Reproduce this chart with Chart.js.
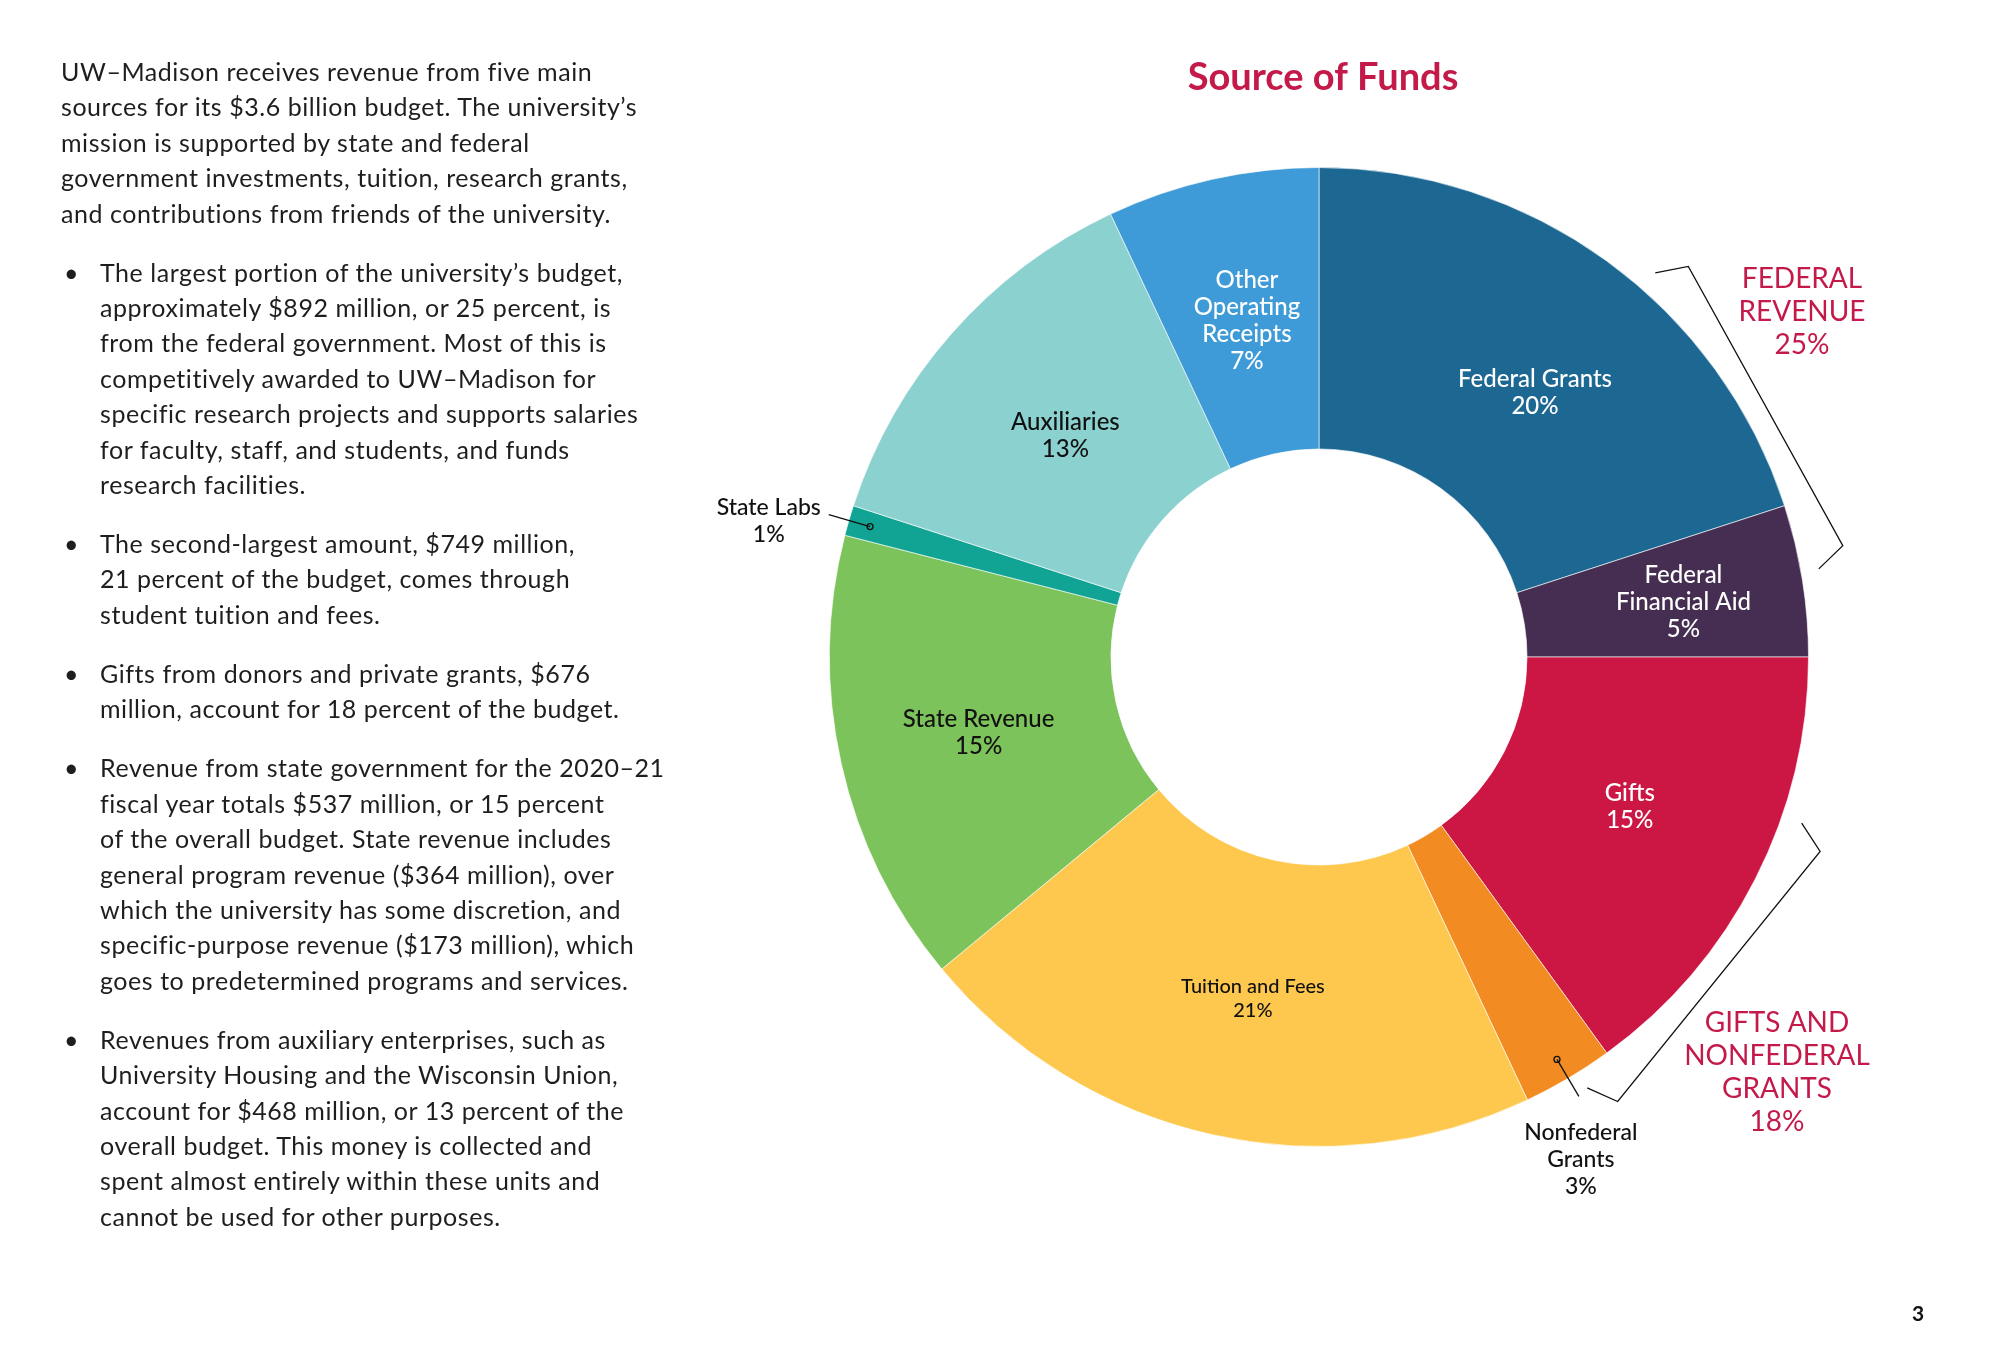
<!DOCTYPE html>
<html>
<head>
<meta charset="utf-8">
<script src="https://cdn.jsdelivr.net/npm/chart.js@4.4.1/dist/chart.umd.min.js"></script>
<style>
  html, body { margin: 0; padding: 0; background: #fff; }
  #page { position: relative; width: 2000px; height: 1367px; overflow: hidden; }
  #chart { position: absolute; left: 0; top: 0; }
  #text {
    position: absolute; left: 61px; top: 54px; width: 620px;
    font-family: Lato, "Noto Sans", sans-serif; font-weight: 400;
    font-size: 25px; line-height: 35.4px; color: #1e1e1e;
    letter-spacing: 0.55px; white-space: nowrap;
  }
  #text p { margin: 0 0 23.6px 0; position: relative; }
  #text p.bullet { padding-left: 39px; }
  #text p.bullet:before { content: "•"; position: absolute; left: 3px; top: 0; }
</style>
</head>
<body>
<div id="page">
  <canvas id="chart" width="2000" height="1367"></canvas>
  <div id="text">
    <p>UW–Madison receives revenue from five main<br>sources for its $3.6 billion budget. The university’s<br>mission is supported by state and federal<br>government investments, tuition, research grants,<br>and contributions from friends of the university.</p>
    <p class="bullet">The largest portion of the university’s budget,<br>approximately $892 million, or 25 percent, is<br>from the federal government. Most of this is<br>competitively awarded to UW–Madison for<br>specific research projects and supports salaries<br>for faculty, staff, and students, and funds<br>research facilities.</p>
    <p class="bullet">The second-largest amount, $749 million,<br>21 percent of the budget, comes through<br>student tuition and fees.</p>
    <p class="bullet">Gifts from donors and private grants, $676<br>million, account for 18 percent of the budget.</p>
    <p class="bullet">Revenue from state government for the 2020–21<br>fiscal year totals $537 million, or 15 percent<br>of the overall budget. State revenue includes<br>general program revenue ($364 million), over<br>which the university has some discretion, and<br>specific-purpose revenue ($173 million), which<br>goes to predetermined programs and services.</p>
    <p class="bullet">Revenues from auxiliary enterprises, such as<br>University Housing and the Wisconsin Union,<br>account for $468 million, or 13 percent of the<br>overall budget. This money is collected and<br>spent almost entirely within these units and<br>cannot be used for other purposes.</p>
  </div>
</div>
<script>
"use strict"

// data, clockwise from 12 o'clock
const categories = ['Federal Grants', 'Federal Financial Aid', 'Gifts', 'Nonfederal Grants',
  'Tuition and Fees', 'State Revenue', 'State Labs', 'Auxiliaries', 'Other Operating Receipts'];
const shares = [20, 5, 15, 3, 21, 15, 1, 13, 7];
const labelLines = [['Federal Grants'], ['Federal', 'Financial Aid'], ['Gifts'], ['Nonfederal', 'Grants'],
  ['Tuition and Fees'], ['State Revenue'], ['State Labs'], ['Auxiliaries'], ['Other', 'Operating', 'Receipts']];
const groupNames = [['FEDERAL', 'REVENUE'], ['GIFTS AND', 'NONFEDERAL', 'GRANTS']];
const groupShares = [25, 18];

const sliceColors = ['#1d6892', '#452e51', '#cc1744', '#f28c22', '#fdc84d', '#7dc35b', '#11a394', '#8ad1cf', '#3f9bd7'];
const textColors = ['#fff', '#fff', '#fff', '#111', '#111', '#111', '#111', '#111', '#fff'];
// small nudges of the in-ring labels away from the slice centre
const labelNudge = [[11, 18], [20, 0], [0, -9], [0, 0], [10, 1], [0, 0], [0, 0], [8, 9], [4, 4]];
const crimson = '#c41a4a';
const FONT = 'Lato, "Noto Sans", sans-serif';

function polar(cx, cy, r, deg) {
  // deg measured clockwise from 12 o'clock
  const a = (deg - 90) * Math.PI / 180;
  return {x: cx + r * Math.cos(a), y: cy + r * Math.sin(a)};
}

const annotations = {
  id: 'annotations',
  afterDraw(chart) {
    const ctx = chart.ctx;
    const arcs = chart.getDatasetMeta(0).data;
    const cx = arcs[0].x, cy = arcs[0].y;
    const R = arcs[0].outerRadius;
    ctx.save();
    ctx.textAlign = 'center';
    ctx.textBaseline = 'middle';

    // title
    ctx.fillStyle = crimson;
    ctx.font = '700 38px ' + FONT;
    ctx.fillText('Source of Funds', cx + 4, 78);

    arcs.forEach((arc, i) => {
      const lines = labelLines[i].concat([shares[i] + '%']);
      const mid = (arc.startAngle + arc.endAngle) / 2;
      if (shares[i] < 4) {
        // small slice: dot inside the ring, radial leader, label outside
        const dot = {x: cx + (R - 22) * Math.cos(mid), y: cy + (R - 22) * Math.sin(mid)};
        const end = {x: cx + (R + 21) * Math.cos(mid), y: cy + (R + 21) * Math.sin(mid)};
        ctx.strokeStyle = '#111';
        ctx.lineWidth = 1.3;
        ctx.beginPath();
        ctx.moveTo(end.x, end.y);
        ctx.lineTo(dot.x, dot.y);
        ctx.stroke();
        ctx.beginPath();
        ctx.arc(dot.x, dot.y, 3, 0, Math.PI * 2);
        ctx.stroke();
        ctx.fillStyle = '#111';
        ctx.font = '500 23px ' + FONT;
        let tx, ty;
        if (Math.cos(mid) < 0) { tx = end.x - 60; ty = end.y - 7; }
        else { tx = end.x + 2; ty = end.y + 36; }
        lines.forEach((t, k) => ctx.fillText(t, tx, ty + k * 27));
        return;
      }
      const p = arc.getCenterPoint();
      const small = labelLines[i][0].length > 15;
      const lh = small ? 24 : 27;
      ctx.fillStyle = textColors[i];
      ctx.font = (small ? '500 20px ' : '500 24px ') + FONT;
      const x = p.x + labelNudge[i][0];
      const y0 = p.y + labelNudge[i][1] - (lines.length - 1) * lh / 2;
      lines.forEach((t, k) => ctx.fillText(t, x, y0 + k * lh));
    });

    // group brackets
    const brackets = [[43.4, 78], [111.2, 146.1]];
    ctx.strokeStyle = '#111';
    ctx.lineWidth = 1.3;
    brackets.forEach(b => {
      const a = polar(cx, cy, R + 48, b[0]), a2 = polar(cx, cy, R + 21, b[0] - 2.2);
      const c = polar(cx, cy, R + 46, b[1]), c2 = polar(cx, cy, R + 18, b[1] + 2);
      ctx.beginPath();
      ctx.moveTo(a2.x, a2.y);
      ctx.lineTo(a.x, a.y);
      ctx.lineTo(c.x, c.y);
      ctx.lineTo(c2.x, c2.y);
      ctx.stroke();
    });

    // group labels
    ctx.fillStyle = crimson;
    ctx.font = '400 28px ' + FONT;
    const groupPos = [{x: cx + 483, y: cy - 378}, {x: cx + 458, y: cy + 366}];
    groupNames.forEach((g, i) => {
      const lines = g.concat([groupShares[i] + '%']);
      lines.forEach((t, k) => ctx.fillText(t, groupPos[i].x, groupPos[i].y + k * 33));
    });

    // page number
    ctx.fillStyle = '#111';
    ctx.font = '700 21px ' + FONT;
    ctx.fillText('3', 1918, 1314);
    ctx.restore();
  }
};

new Chart(document.getElementById('chart'), {
  type: 'doughnut',
  data: {
    labels: categories,
    datasets: [{
      data: shares,
      backgroundColor: sliceColors,
      borderColor: 'rgba(255,255,255,0.6)',
      borderWidth: 1
    }]
  },
  options: {
    responsive: false,
    devicePixelRatio: 1,
    animation: false,
    cutout: '42.5%',
    layout: {padding: {left: 829, right: 191, top: 167, bottom: 220}},
    plugins: {
      legend: {display: false},
      tooltip: {enabled: false}
    }
  },
  plugins: [annotations]
});
</script>
</body>
</html>
